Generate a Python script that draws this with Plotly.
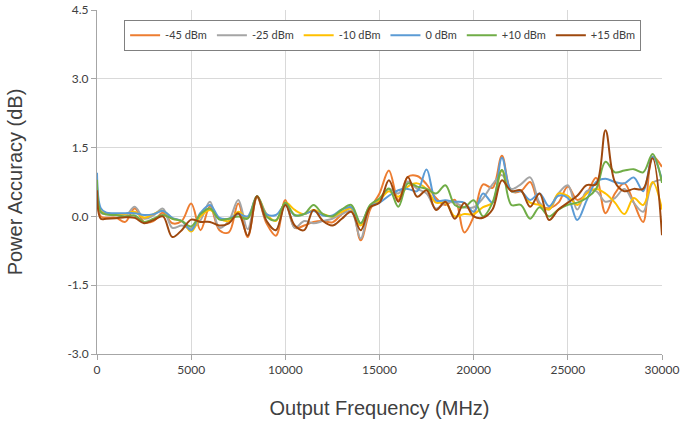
import plotly.graph_objects as go

freq = [0, 200] + list(range(500, 30001, 500))

series_names = ["-45 dBm", "-25 dBm", "-10 dBm", "0 dBm", "+10 dBm", "+15 dBm"]
series_colors = ["#ED7D31", "#A5A5A5", "#FFC000", "#5B9BD5", "#70AD47", "#9E480E"]

m45 = [0.45, 0.0, -0.03, -0.03, -0.12, 0.17, -0.12, -0.1, 0.08, -0.15, -0.1, 0.28, -0.3, 0.22, -0.3, -0.35,
       0.28, -0.45, 0.42, -0.15, -0.42, 0.36, -0.25, -0.2, -0.12, -0.1, -0.13, 0.05, 0.2, -0.52, 0.15, 0.5,
       1.0, 0.36, 0.86, 0.88, 0.7, 0.4, 0.25, 0.36, -0.35, 0.0, 0.7, 0.62, 1.32, 0.55, 0.55, 0.75, 0.25, 0.18,
       0.3, 0.65, 0.36, 0.5, 0.84, 0.07, 0.5, 0.72, 0.3, -0.12, 1.3, 1.08]
m25 = [0.5, 0.08, 0.05, 0.03, 0.0, 0.21, -0.05, 0.02, 0.17, -0.25, -0.2, -0.26, -0.08, 0.32, -0.25, -0.1,
       0.36, -0.28, 0.44, -0.1, -0.3, 0.3, -0.25, -0.1, -0.15, -0.1, -0.05, 0.05, 0.12, -0.48, 0.2, 0.35,
       0.6, 0.5, 0.76, 0.6, 0.5, 0.17, 0.3, 0.3, 0.2, 0.2, 0.4, 0.7, 0.9, 0.6, 0.7, 0.85, 0.3, 0.15,
       0.5, 0.68, 0.15, 0.55, 0.55, 0.32, 0.4, 0.6, 0.3, 0.1, 0.73, 0.8]
m10 = [0.6, 0.12, 0.07, 0.05, 0.05, 0.1, -0.03, 0.05, 0.12, -0.05, -0.1, -0.33, 0.0, 0.14, -0.05, -0.1,
       0.1, -0.03, 0.44, 0.05, -0.1, 0.3, 0.14, 0.05, 0.14, 0.05, 0.0, 0.1, 0.17, -0.2, 0.2, 0.35,
       0.55, 0.43, 0.65, 0.72, 0.6, 0.3, 0.3, 0.0, 0.05, 0.05, 0.2, 0.3, 1.0, 0.55, 0.55, 0.3, 0.25, 0.15,
       0.5, 0.45, 0.25, 0.5, 0.6, 0.5, 0.3, 0.05, 0.4, 0.25, 0.75, 0.15]
p0 = [0.95, 0.18, 0.08, 0.07, 0.07, 0.07, 0.03, 0.05, 0.12, -0.03, -0.1, -0.3, 0.08, 0.25, -0.03, -0.05,
      0.05, 0.0, 0.44, 0.05, 0.03, 0.25, 0.02, 0.05, 0.12, 0.02, 0.02, 0.15, 0.2, -0.15, 0.22, 0.3,
      0.45, 0.57, 0.6, 0.55, 1.02, 0.35, 0.35, 0.32, 0.3, 0.1, 0.5, 0.3, 1.28, 0.55, 0.55, 0.36, 0.5, 0.22,
      0.45, 0.4, -0.08, 0.35, 0.75, 0.82, 0.75, 0.72, 0.85, 0.55, 1.3, 0.8]
p10 = [0.8, 0.1, 0.04, 0.03, 0.0, 0.02, -0.12, -0.05, 0.03, -0.05, -0.1, -0.22, 0.05, 0.17, -0.07, -0.05,
       0.0, -0.05, 0.44, 0.0, -0.08, 0.3, 0.03, 0.05, 0.25, 0.05, 0.0, 0.15, 0.25, -0.15, 0.25, 0.39,
       0.61, 0.21, 0.72, 0.65, 0.6, 0.5, 0.68, 0.25, 0.2, 0.35, 0.0, 0.3, 1.01, 0.25, 0.25, -0.05, 0.2, 0.0,
       0.15, 0.25, 0.3, 0.4, 0.6, 1.19, 0.96, 1.0, 1.03, 0.96, 1.36, 0.73]
p15 = [0.57, -0.05, -0.05, -0.04, -0.02, -0.03, -0.15, -0.08, 0.0, -0.45, -0.3, -0.07, -0.12, -0.12, -0.2, -0.15,
       0.07, -0.42, 0.44, -0.1, -0.3, 0.25, -0.2, -0.3, 0.14, -0.1, -0.2, -0.05, 0.1, -0.3, 0.2, 0.3,
       0.79, 0.32, 0.86, 0.43, 0.57, 0.14, 0.32, -0.05, 0.29, 0.0, -0.03, 0.15, 0.79, 0.55, 0.57, 0.21, 0.5, -0.08,
       0.15, 0.3, 0.45, 0.68, 0.7, 1.88, 0.75, 0.55, 0.6, 0.6, 1.27, -0.41]

series_values = [m45, m25, m10, p0, p10, p15]

x_ticks = [0, 5000, 10000, 15000, 20000, 25000, 30000]
y_ticks = [-3.0, -1.5, 0.0, 1.5, 3.0, 4.5]

fig = go.Figure()
for name, color, vals in zip(series_names, series_colors, series_values):
    fig.add_trace(go.Scatter(
        x=freq, y=vals, name=name, mode="lines",
        line=dict(color=color, width=2, shape="spline", smoothing=1.0),
    ))

tick_font = dict(family="Lato, Open Sans, sans-serif", size=12, color="#404040")
title_font = dict(family="Liberation Sans, Arial, sans-serif", size=20, color="#404040")

fig.update_layout(
    width=683, height=425,
    margin=dict(l=97, r=21, t=10, b=71, autoexpand=False),
    paper_bgcolor="white", plot_bgcolor="white",
    showlegend=True,
    legend=dict(
        orientation="h", x=0.048, y=0.972, xanchor="left", yanchor="top",
        bordercolor="#808080", borderwidth=1, bgcolor="white",
        font=dict(family="Lato, Open Sans, sans-serif", size=11, color="#404040"),
        itemwidth=30, tracegroupgap=0,
    ),
    xaxis=dict(
        range=[0, 30000], tickvals=x_ticks, ticktext=[str(v) for v in x_ticks],
        showgrid=True, gridcolor="#D9D9D9", gridwidth=1,
        showline=True, linecolor="#A6A6A6", linewidth=1,
        ticks="outside", ticklen=5, tickcolor="#A6A6A6",
        tickfont=tick_font, zeroline=False, automargin=False,
        title=dict(text="Output Frequency (MHz)", font=title_font, standoff=24),
    ),
    yaxis=dict(
        range=[-3.0, 4.5], tickvals=y_ticks, ticktext=[f"{v:.1f}" for v in y_ticks],
        showgrid=True, gridcolor="#D9D9D9", gridwidth=1,
        showline=True, linecolor="#A6A6A6", linewidth=1,
        ticks="outside", ticklen=5, tickcolor="#A6A6A6",
        tickfont=tick_font, zeroline=False, automargin=False,
        title=dict(text="Power Accuracy (dB)", font=title_font, standoff=39),
    ),
)

fig.write_html("out.html", config={"displayModeBar": False},
               post_script="document.body.style.margin='0';document.body.style.padding='0';")
